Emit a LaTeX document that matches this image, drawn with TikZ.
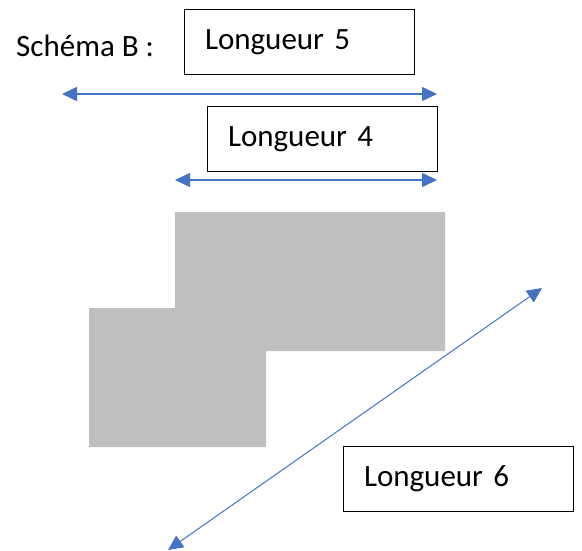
\documentclass[tikz,border=0pt]{standalone}
\usepackage{fontspec}
\setmainfont{Carlito}
\usetikzlibrary{arrows.meta}
\definecolor{arrowblue}{HTML}{4472C4}
\definecolor{shapegray}{HTML}{BFBFBF}
\tikzset{
  lbox/.style={draw=black, line width=1pt, minimum width=230pt, minimum height=65pt,
    text width=188pt, align=left, inner xsep=21pt, inner ysep=0pt,
    font=\fontsize{31pt}{36pt}\selectfont},
  lbl/.style={font=\fontsize{31pt}{36pt}\selectfont, inner sep=0pt},
  dimarrow/.style={draw=arrowblue, line width=1.5pt,
    {Triangle[length=15pt,width=14pt,fill=arrowblue]}-{Triangle[length=15pt,width=14pt,fill=arrowblue]}},
  diagarrow/.style={draw=arrowblue, line width=1pt,
    {Triangle[length=15pt,width=14pt,fill=arrowblue]}-{Triangle[length=15pt,width=14pt,fill=arrowblue]}},
}
\begin{document}
\begin{tikzpicture}[x=1pt,y=-1pt]
\useasboundingbox (0,0) rectangle (582,551);
% gray shape
\fill[shapegray] (175,212) -- (445,212) -- (445,351) -- (266,351) -- (266,447)
  -- (89,447) -- (89,308) -- (175,308) -- cycle;
% title
\node[lbl, anchor=base west] (title) at (16,57) {Schéma B :};
% boxes
\node[lbox] (l5) at (299,42.5) {Longueur 5};
\node[lbox] (l4) at (322,139) {Longueur 4};
\node[lbox] (l6) at (458,479) {Longueur 6};
% arrows
\coordinate (a1l) at (62,94);
\coordinate (a1r) at (437,94);
\coordinate (a2l) at (175,180);
\coordinate (a2r) at (437,180);
\coordinate (a3b) at (168,550);
\coordinate (a3t) at (542,288);
\draw[dimarrow] (a1l) -- (a1r);
\draw[dimarrow] (a2l) -- (a2r);
\draw[diagarrow] (a3b) -- (a3t);
\end{tikzpicture}
\end{document}
